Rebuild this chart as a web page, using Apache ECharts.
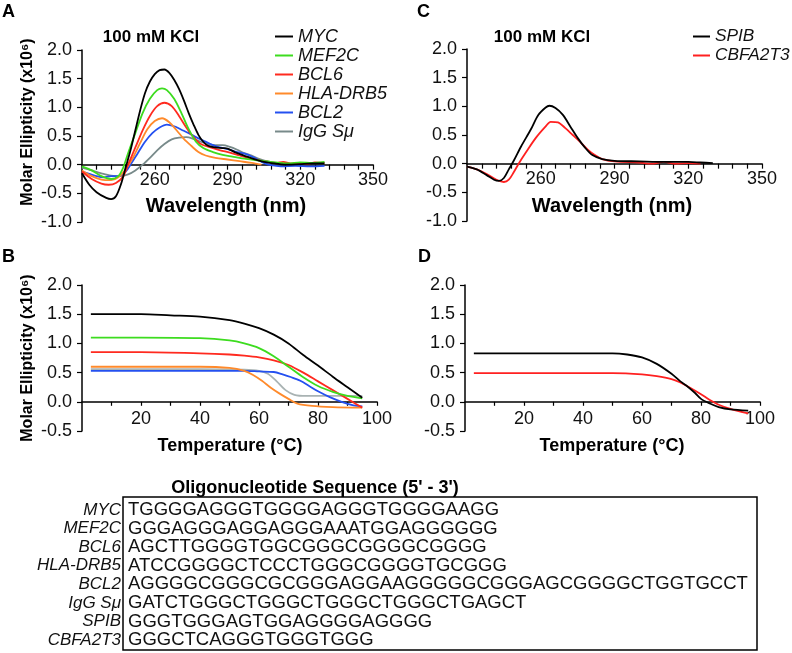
<!DOCTYPE html>
<html><head><meta charset="utf-8">
<script src="https://cdn.jsdelivr.net/npm/echarts@6/dist/echarts.min.js"></script>
<style>html,body{margin:0;padding:0;background:#fff}#c{width:792px;height:653px}</style>
</head><body><div id="c"></div><script>
// ---------- Panel A : CD spectra (100 mM KCl) ----------
const mycWl = [230,233,236,240,242,244,246,248,250,252,254,256,258,260,262,264,266,268,270,272,274,276,278,280,282,285,288,290,293,296,300,305,310,315,320,325,330];
const mycCD = [-0.15,-0.35,-0.48,-0.58,-0.60,-0.55,-0.35,-0.05,0.25,0.6,0.95,1.25,1.45,1.58,1.65,1.66,1.6,1.48,1.32,1.12,0.9,0.7,0.52,0.40,0.33,0.30,0.29,0.28,0.22,0.17,0.11,0.05,0.02,0.0,0.01,0.02,0.02];
const mef2cWl = [230,234,238,242,245,247,249,252,255,258,261,263,265,268,271,274,277,280,284,288,292,296,300,305,310,315,320,325,330];
const mef2cCD = [-0.03,-0.1,-0.2,-0.25,-0.2,-0.05,0.2,0.55,0.9,1.15,1.3,1.33,1.3,1.15,0.9,0.62,0.4,0.29,0.22,0.17,0.14,0.11,0.09,0.06,0.04,0.02,0.04,0.03,0.05];
const bcl6Wl = [230,234,238,241,244,247,249,252,255,258,261,264,267,270,273,276,279,283,287,291,295,300,305,310,313,316,320,323,326,330];
const bcl6CD = [-0.12,-0.25,-0.33,-0.35,-0.32,-0.2,0.0,0.3,0.6,0.85,1.02,1.08,1.02,0.85,0.65,0.48,0.36,0.3,0.25,0.21,0.16,0.1,0.06,0.03,0.05,0.02,0.03,0.01,0.04,0.03];
const hlaWl = [230,234,238,242,245,248,251,254,257,260,263,266,269,272,275,278,281,285,290,295,300,304];
const hlaCD = [-0.1,-0.2,-0.26,-0.27,-0.22,-0.08,0.12,0.38,0.62,0.76,0.81,0.74,0.6,0.45,0.33,0.22,0.16,0.12,0.09,0.06,0.03,0.0];
const bcl2Wl = [230,233,236,239,242,245,248,250,253,256,259,262,265,268,271,274,277,280,283,286,290,294,298,302,305,308,312,318,324,330];
const bcl2CD = [-0.12,-0.16,-0.2,-0.22,-0.2,-0.2,-0.12,0.0,0.2,0.4,0.55,0.65,0.7,0.67,0.61,0.55,0.48,0.42,0.36,0.31,0.27,0.22,0.18,0.1,0.03,-0.01,-0.03,-0.02,-0.03,-0.02];
const iggWl = [230,234,238,242,246,249,252,255,258,261,264,267,270,273,276,279,282,285,288,291,294,297,300,303,306,310];
const iggCD = [-0.05,-0.1,-0.15,-0.19,-0.2,-0.17,-0.1,0.0,0.12,0.25,0.36,0.44,0.47,0.48,0.45,0.4,0.36,0.34,0.34,0.31,0.26,0.2,0.16,0.1,0.06,0.03];

// ---------- Panel C : CD spectra ----------
const spibWl = [230,234,238,241,243,245,247,249,252,256,259,262,263.5,266,269,272,275,278,281,285,290,300,310,320,325,330];
const spibCD = [-0.05,-0.1,-0.2,-0.28,-0.3,-0.25,-0.1,0.05,0.3,0.6,0.85,0.98,1.01,0.97,0.85,0.65,0.45,0.28,0.15,0.08,0.05,0.04,0.03,0.03,0.02,0.01];
const cbfaWl = [230,234,238,242,245,247,249,251,254,258,262,264,267,270,273,276,279,282,285,290,300,305,310,315,320,325];
const cbfaCD = [-0.05,-0.1,-0.18,-0.28,-0.32,-0.28,-0.15,0.0,0.2,0.45,0.65,0.73,0.72,0.62,0.5,0.38,0.25,0.15,0.08,0.04,0.02,0.0,0.03,0.0,0.01,0.0];

// ---------- Panel B : melting curves ----------
const mycT = [3,20,30,40,50,55,60,65,70,75,80,85,90,95];
const mycM = [1.5,1.5,1.48,1.46,1.40,1.34,1.26,1.15,1.0,0.8,0.62,0.43,0.25,0.07];
const mef2cT = [3,20,40,50,55,60,65,70,75,80,85,90,95];
const mef2cM = [1.1,1.1,1.09,1.05,1.0,0.92,0.78,0.6,0.42,0.27,0.17,0.1,0.06];
const bcl6T = [3,20,40,50,55,60,65,70,75,80,85,90,95];
const bcl6M = [0.85,0.85,0.83,0.81,0.79,0.76,0.71,0.63,0.5,0.35,0.2,0.05,-0.1];
const hlaT = [3,20,40,50,55,58,61,64,67,70,73,78,85,95];
const hlaM = [0.6,0.6,0.6,0.58,0.53,0.46,0.36,0.24,0.14,0.05,-0.03,-0.07,-0.09,-0.1];
const bcl2T = [3,20,40,55,60,65,68,71,74,77,80,84,88,92,95];
const bcl2M = [0.53,0.53,0.53,0.53,0.52,0.51,0.47,0.42,0.36,0.27,0.18,0.08,0.0,-0.06,-0.08];
const iggT = [3,20,40,55,60,63,66,69,72,76,85,95];
const iggM = [0.56,0.56,0.56,0.55,0.53,0.48,0.35,0.2,0.12,0.1,0.1,0.1];

// ---------- Panel D : melting curves ----------
const spibT = [3,20,40,50,55,60,65,70,73,75,78,80,83,86,90,96];
const spibM = [0.83,0.83,0.83,0.83,0.81,0.76,0.65,0.48,0.35,0.28,0.15,0.05,-0.03,-0.09,-0.13,-0.15];
const cbfaT = [3,20,40,50,60,65,70,73,76,80,83,86,90,96];
const cbfaM = [0.49,0.49,0.49,0.49,0.47,0.44,0.39,0.33,0.25,0.13,0.03,-0.05,-0.12,-0.2];

// ---------- names, ticks, table ----------
const namesA = ['MYC','MEF2C','BCL6','HLA-DRB5','BCL2','IgG S\u03bc'];
const namesC = ['SPIB','CBFA2T3'];
const wlLabels = [260,290,320,350];
const tempLabels = [20,40,60,80,100];
const seqNames = ['MYC','MEF2C','BCL6','HLA-DRB5','BCL2','IgG S\u03bc','SPIB','CBFA2T3'];
const sequences = [
  'TGGGGAGGGTGGGGAGGGTGGGGAAGG',
  'GGGAGGGAGGAGGGAAATGGAGGGGGG',
  'AGCTTGGGGTGGCGGGCGGGGCGGGG',
  'ATCCGGGGCTCCCTGGGCGGGGTGCGGG',
  'AGGGGCGGGCGCGGGAGGAAGGGGGCGGGAGCGGGGCTGGTGCCT',
  'GATCTGGGCTGGGCTGGGCTGGGCTGAGCT',
  'GGGTGGGAGTGGAGGGGAGGGG',
  'GGGCTCAGGGTGGGTGGG'
];

const colA = ['#000000','#3ddc1f','#ff2a1f','#ff8a2b','#2450f0','#788a8a'];
const colB = ['#000000','#3ddc1f','#ff2a1f','#ff8a2b','#2450f0','#a9b3b3'];
const colC = ['#000000','#ff2020'];

const zip = (xs, ys) => xs.map((x, i) => [x, ys[i]]);
const FONT = 'Liberation Sans, Arial, sans-serif';

const wlTicks = [];
for (let v = 236; v <= 350; v += 6) wlTicks.push(v);
const tTicks = [];
for (let v = 10; v <= 100; v += 10) tTicks.push(v);

// grid geometry
const gA = { left: 82, top: 50, width: 291, height: 172 };
const gB = { left: 82, top: 285, width: 295, height: 146 };
const gC = { left: 467, top: 49, width: 295, height: 172 };
const gD = { left: 465, top: 285, width: 295, height: 146 };
// x axis sits at y = 0: offset upward from the grid bottom
const offWave = -gA.height * (1 / 3);   // y range -1..2
const offTemp = -gB.height * (0.5 / 2.5); // y range -0.5..2

function xWave(gi) {
  return {
    type: 'value', gridIndex: gi, min: 230, max: 350, position: 'bottom', offset: offWave,
    axisLine: { show: true, onZero: false, lineStyle: { color: '#000', width: 1.5 } },
    axisTick: { show: true, customValues: wlTicks, length: 5, lineStyle: { color: '#000', width: 1.2 } },
    axisLabel: { customValues: wlLabels, margin: 6, fontSize: 18, color: '#111', fontFamily: FONT },
    splitLine: { show: false }
  };
}
function xTemp(gi) {
  return {
    type: 'value', gridIndex: gi, min: 0, max: 100, position: 'bottom', offset: offTemp,
    axisLine: { show: true, onZero: false, lineStyle: { color: '#000', width: 1.5 } },
    axisTick: { show: true, customValues: tTicks, length: 4, lineStyle: { color: '#000', width: 1.2 } },
    axisLabel: { customValues: tempLabels, margin: 8, fontSize: 18, color: '#111', fontFamily: FONT },
    splitLine: { show: false }
  };
}
function yAx(gi, min) {
  return {
    type: 'value', gridIndex: gi, min: min, max: 2, interval: 0.5,
    axisLine: { show: true, onZero: false, lineStyle: { color: '#000', width: 1.5 } },
    axisTick: { show: true, length: 5, lineStyle: { color: '#000', width: 1.2 } },
    axisLabel: { margin: 10, fontSize: 18, color: '#111', fontFamily: FONT,
      formatter: v => v.toFixed(1) },
    splitLine: { show: false }
  };
}

const series = [];
function addLine(name, xi, yi, data, color) {
  series.push({ name, type: 'line', xAxisIndex: xi, yAxisIndex: yi, data, symbol: 'none',
    smooth: 0.3, lineStyle: { color, width: 1.8 }, itemStyle: { color }, z: 3 });
}
const aW = [mycWl, mef2cWl, bcl6Wl, hlaWl, bcl2Wl, iggWl];
const aV = [mycCD, mef2cCD, bcl6CD, hlaCD, bcl2CD, iggCD];
const bT = [mycT, mef2cT, bcl6T, hlaT, bcl2T, iggT];
const bV = [mycM, mef2cM, bcl6M, hlaM, bcl2M, iggM];
// draw in reverse so black is on top
for (let i = namesA.length - 1; i >= 0; i--) addLine(namesA[i], 0, 0, zip(aW[i], aV[i]), colA[i]);
for (let i = namesA.length - 1; i >= 0; i--) addLine(namesA[i], 1, 1, zip(bT[i], bV[i]), colB[i]);
addLine(namesC[1], 2, 2, zip(cbfaWl, cbfaCD), colC[1]);
addLine(namesC[0], 2, 2, zip(spibWl, spibCD), colC[0]);
addLine(namesC[1], 3, 3, zip(cbfaT, cbfaM), colC[1]);
addLine(namesC[0], 3, 3, zip(spibT, spibM), colC[0]);

const graphics = [];
function txt(x, y, text, style, extra) {
  graphics.push(Object.assign({ type: 'text', x, y, style: Object.assign({ text, fill: '#000', fontFamily: FONT }, style) }, extra || {}));
}
const bold = (s) => ({ fontSize: s, fontWeight: 'bold' });
txt(2, 3, 'A', bold(18)); txt(2, 248, 'B', bold(18));
txt(417, 3, 'C', bold(18)); txt(418, 248, 'D', bold(18));
txt(151, 37, '100 mM KCl', Object.assign(bold(17), { align: 'center', verticalAlign: 'middle' }));
txt(542, 37, '100 mM KCl', Object.assign(bold(17), { align: 'center', verticalAlign: 'middle' }));
txt(226, 206, 'Wavelength (nm)', Object.assign(bold(20), { align: 'center', verticalAlign: 'middle' }));
txt(612, 206, 'Wavelength (nm)', Object.assign(bold(20), { align: 'center', verticalAlign: 'middle' }));
txt(230, 446, 'Temperature (\u00b0C)', Object.assign(bold(18), { align: 'center', verticalAlign: 'middle' }));
txt(612, 446, 'Temperature (\u00b0C)', Object.assign(bold(18), { align: 'center', verticalAlign: 'middle' }));
txt(28, 122, 'Molar Ellipticity (x10\u2076)', Object.assign(bold(16), { align: 'center', verticalAlign: 'middle' }), { rotation: Math.PI / 2 });
txt(28, 358, 'Molar Ellipticity (x10\u2076)', Object.assign(bold(16), { align: 'center', verticalAlign: 'middle' }), { rotation: Math.PI / 2 });
// table
txt(315, 488, "Oligonucleotide Sequence (5' - 3')", Object.assign(bold(18), { align: 'center', verticalAlign: 'middle' }));
graphics.push({ type: 'rect', shape: { x: 123, y: 497, width: 634, height: 153 }, style: { fill: 'none', stroke: '#000', lineWidth: 1.5 } });
seqNames.forEach((n, i) => {
  const y = 510 + i * 18.57;
  txt(121, y, n, { fontSize: 17, fontStyle: 'italic', align: 'right', verticalAlign: 'middle', fill: '#111' });
  txt(128, y, sequences[i], { fontSize: 18.5, align: 'left', verticalAlign: 'middle', fill: '#111' });
});

const legendText = { fontSize: 18, lineHeight: 19, fontStyle: 'italic', fontFamily: FONT, color: '#111' };
const legendTextC = { fontSize: 17.3, lineHeight: 19, fontStyle: 'italic', fontFamily: FONT, color: '#111' };
const option = {
  backgroundColor: '#fff',
  animation: false,
  grid: [gA, gB, gC, gD],
  xAxis: [xWave(0), xTemp(1), xWave(2), xTemp(3)],
  yAxis: [yAx(0, -1), yAx(1, -0.5), yAx(2, -1), yAx(3, -0.5)],
  legend: [
    { data: namesA, orient: 'vertical', left: 270, top: 22, icon: 'rect', itemWidth: 18, itemHeight: 2,
      itemGap: 0, textStyle: legendText },
    { data: namesC, orient: 'vertical', left: 688, top: 22, icon: 'rect', itemWidth: 17, itemHeight: 2,
      itemGap: 0, textStyle: legendTextC }
  ],
  series: series,
  graphic: graphics
};
const chart = echarts.init(document.getElementById('c'), null, { renderer: 'canvas' });
chart.setOption(option);
</script></body></html>
